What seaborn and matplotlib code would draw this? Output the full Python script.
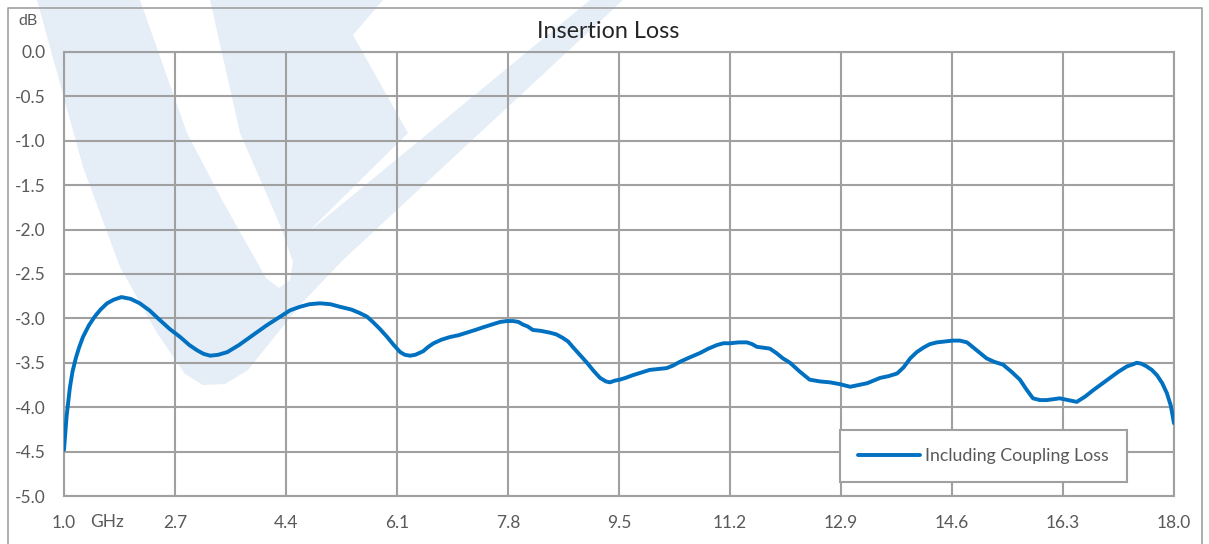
import matplotlib
matplotlib.use("Agg")
import matplotlib.pyplot as plt
from matplotlib.patches import Polygon
from matplotlib.lines import Line2D
import seaborn as sns

# values
freq_ghz = [1.00, 1.04, 1.09, 1.13, 1.18, 1.23, 1.29, 1.38, 1.47, 1.56, 1.66, 1.76, 1.88,
            2.02, 2.16, 2.31, 2.47, 2.62, 2.78, 2.92, 3.04, 3.14, 3.24, 3.36, 3.50, 3.68,
            3.89, 4.10, 4.31, 4.46, 4.61, 4.76, 4.92, 5.08, 5.23, 5.40, 5.53, 5.64, 5.73,
            5.84, 5.95, 6.05, 6.15, 6.22, 6.30, 6.38, 6.50, 6.58, 6.66, 6.78, 6.91, 7.04,
            7.17, 7.30, 7.42, 7.55, 7.68, 7.78, 7.88, 7.96, 8.03, 8.10, 8.18, 8.30, 8.44,
            8.54, 8.64, 8.72, 8.79, 8.90, 9.01, 9.11, 9.21, 9.30, 9.36, 9.44, 9.51, 9.60,
            9.71, 9.84, 9.97, 10.10, 10.23, 10.33, 10.43, 10.58, 10.74, 10.87, 11.00, 11.10,
            11.20, 11.33, 11.46, 11.54, 11.61, 11.71, 11.81, 11.91, 12.01, 12.12, 12.27,
            12.42, 12.58, 12.73, 12.88, 13.04, 13.17, 13.30, 13.50, 13.63, 13.76, 13.86,
            13.96, 14.06, 14.16, 14.26, 14.37, 14.49, 14.61, 14.72, 14.83, 14.98, 15.13,
            15.25, 15.38, 15.51, 15.64, 15.74, 15.84, 15.95, 16.05, 16.15, 16.25, 16.38,
            16.51, 16.64, 16.76, 16.89, 17.02, 17.15, 17.28, 17.36, 17.43, 17.50, 17.58,
            17.66, 17.74, 17.82, 17.89, 17.95, 18.00]
loss_db = [-4.48, -4.10, -3.78, -3.60, -3.45, -3.33, -3.21, -3.08, -2.98, -2.90, -2.83, -2.79,
           -2.76, -2.78, -2.83, -2.91, -3.02, -3.12, -3.21, -3.30, -3.36, -3.40, -3.42, -3.41,
           -3.38, -3.30, -3.19, -3.08, -2.98, -2.91, -2.87, -2.84, -2.83, -2.84, -2.87, -2.90,
           -2.94, -2.98, -3.04, -3.12, -3.21, -3.30, -3.38, -3.41, -3.42, -3.41, -3.37, -3.32,
           -3.28, -3.24, -3.21, -3.19, -3.16, -3.13, -3.10, -3.07, -3.04, -3.03, -3.03, -3.04,
           -3.07, -3.09, -3.13, -3.14, -3.16, -3.18, -3.22, -3.26, -3.32, -3.41, -3.50, -3.59,
           -3.67, -3.71, -3.72, -3.70, -3.69, -3.67, -3.64, -3.61, -3.58, -3.57, -3.56, -3.53,
           -3.49, -3.44, -3.39, -3.34, -3.30, -3.28, -3.28, -3.27, -3.27, -3.29, -3.32, -3.33,
           -3.34, -3.39, -3.45, -3.50, -3.60, -3.69, -3.71, -3.72, -3.74, -3.77, -3.75, -3.73,
           -3.67, -3.65, -3.62, -3.55, -3.45, -3.38, -3.33, -3.29, -3.27, -3.26, -3.25, -3.25,
           -3.27, -3.36, -3.45, -3.49, -3.52, -3.60, -3.69, -3.80, -3.90, -3.92, -3.92, -3.91,
           -3.90, -3.92, -3.94, -3.88, -3.81, -3.74, -3.67, -3.60, -3.54, -3.52, -3.50, -3.51,
           -3.54, -3.58, -3.64, -3.73, -3.84, -3.98, -4.18]
x_ticks = [1.0, 2.7, 4.4, 6.1, 7.8, 9.5, 11.2, 12.9, 14.6, 16.3, 18.0]
y_ticks = [0.0, -0.5, -1.0, -1.5, -2.0, -2.5, -3.0, -3.5, -4.0, -4.5, -5.0]
series_name = "Including Coupling Loss"

W, H = 1209, 544
sns.set_style("white")
plt.rcParams["font.family"] = ["Lato", "DejaVu Sans"]

fig = plt.figure(figsize=(W / 100, H / 100), dpi=100)
ax = fig.add_axes([64 / W, 1 - 496 / H, 1110 / W, 444 / H])
ax.patch.set_visible(False)


def px(points):
    return [(x / W, 1 - y / H) for x, y in points]


# faint logo watermark behind the chart: light V, then two white cut-outs
mark = "#e5eef7"
logo = [(37, 0), (623, 0), (343, 260), (300, 305), (268, 345), (248, 370), (225, 384),
        (203, 385), (185, 374), (157, 333), (120, 267), (83, 167)]
cuts = [
    [(140, 0), (210, 0), (240, 133), (280, 225), (293, 262), (290, 280), (279, 288),
     (266, 278), (222, 200), (187, 133)],
    [(383, 0), (590, 0), (307, 233), (408, 133), (353, 35)],
]
fig.add_artist(Polygon(px(logo), closed=True, transform=fig.transFigure,
                       facecolor=mark, edgecolor="none", zorder=-3))
for c in cuts:
    fig.add_artist(Polygon(px(c), closed=True, transform=fig.transFigure,
                           facecolor="white", edgecolor="none", zorder=-2))

# outer chart frame
frame = "#a0a0a0"
fig.add_artist(Line2D([8 / W, 8 / W, 1202 / W, 1202 / W], [0, 1 - 8 / H, 1 - 8 / H, 0],
                      transform=fig.transFigure, color=frame, lw=1.2, zorder=-1))

sns.lineplot(x=freq_ghz, y=loss_db, ax=ax, color="#0070c0", lw=2.8, sort=False,
             label=series_name, zorder=3)

ax.set_xlim(1.0, 18.0)
ax.set_ylim(-5.0, 0.0)
ax.set_xticks(x_ticks)
ax.set_xticklabels([f"{t:.1f}" for t in x_ticks])
ax.set_yticks(y_ticks)
ax.set_yticklabels([f"{t:.1f}" for t in y_ticks])
ax.grid(True, color="#a0a0a0", lw=1.5)
ax.set_axisbelow(True)
for sp in ax.spines.values():
    sp.set_color("#a0a0a0")
    sp.set_linewidth(1.5)
ax.tick_params(length=0, labelsize=12.5, colors="#595959")
ax.tick_params(axis="x", pad=14)
ax.tick_params(axis="y", pad=13.5)
ax.set_xlabel("")
ax.set_ylabel("")

fig.text(608 / W, 1 - 31 / H, "Insertion Loss", ha="center", va="center",
         fontsize=16.8, color="#262626")
fig.text(18 / W, 1 - 21 / H, "dB", ha="left", va="center", fontsize=11.5, color="#595959")
fig.text(90 / W, 1 - 522 / H, "GHz", ha="left", va="center", fontsize=12.5, color="#595959")

leg = ax.legend(loc="lower left", bbox_to_anchor=(0.699, 0.0315), fontsize=12.8,
                frameon=True, fancybox=False, framealpha=1, edgecolor="#a0a0a0",
                handlelength=3.5, handletextpad=0.3, borderpad=1.0, borderaxespad=0)
leg.get_frame().set_linewidth(1.5)
for t in leg.get_texts():
    t.set_color("#595959")

fig.savefig("out.png", dpi=100)
